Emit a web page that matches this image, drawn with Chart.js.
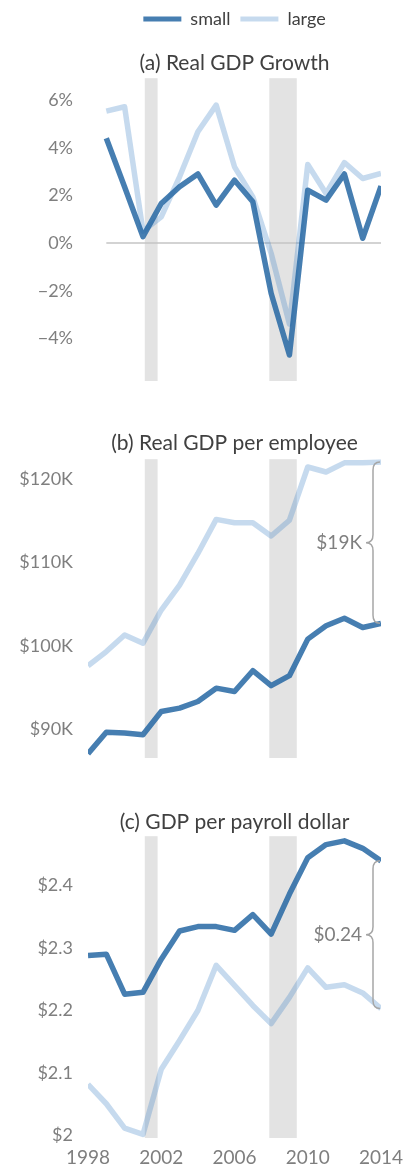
<!DOCTYPE html>
<html>
<head>
<meta charset="utf-8">
<script src="https://cdn.jsdelivr.net/npm/chart.js@4/dist/chart.umd.min.js"></script>
<style>
  body { margin: 0; background: #fff; width: 413px; height: 1169px; overflow: hidden; position: relative; }
  canvas { position: absolute; left: 0; }
</style>
</head>
<body>
<canvas id="chartA" width="413" height="395" style="top:0"></canvas>
<canvas id="chartB" width="413" height="370" style="top:400px"></canvas>
<canvas id="chartC" width="413" height="379" style="top:790px"></canvas>
<script>
const seriesNames = ["small", "large"];
const years = [1998, 1999, 2000, 2001, 2002, 2003, 2004, 2005, 2006, 2007, 2008, 2009, 2010, 2011, 2012, 2013, 2014];
const growthYears = [1999, 2000, 2001, 2002, 2003, 2004, 2005, 2006, 2007, 2008, 2009, 2010, 2011, 2012, 2013, 2014];

// (a) real GDP growth, %
const growthSmall = [4.4, 2.35, 0.27, 1.66, 2.36, 2.9, 1.59, 2.64, 1.73, -2.11, -4.7, 2.22, 1.8, 2.9, 0.2, 2.39];
const growthLarge = [5.54, 5.72, 0.5, 1.1, 2.78, 4.67, 5.79, 3.2, 1.94, -0.43, -3.4, 3.3, 2.08, 3.38, 2.71, 2.92];
// (b) real GDP per employee, $K
const perEmpSmall = [87.0, 89.6, 89.5, 89.3, 92.1, 92.5, 93.3, 94.9, 94.5, 97.0, 95.2, 96.4, 100.8, 102.4, 103.3, 102.2, 102.7];
const perEmpLarge = [97.6, 99.3, 101.3, 100.3, 104.3, 107.3, 111.1, 115.2, 114.8, 114.8, 113.2, 115.1, 121.5, 120.9, 122.0, 122.0, 122.1];
// (c) GDP per payroll dollar, $
const perDollarSmall = [2.288, 2.29, 2.226, 2.229, 2.282, 2.327, 2.334, 2.334, 2.328, 2.353, 2.322, 2.386, 2.444, 2.465, 2.471, 2.459, 2.439];
const perDollarLarge = [2.082, 2.051, 2.012, 2.002, 2.106, 2.152, 2.2, 2.272, 2.24, 2.208, 2.179, 2.221, 2.268, 2.237, 2.241, 2.228, 2.203];

const recessions = [[2001.1, 2001.8], [2007.9, 2009.4]];
const yearTicks = [1998, 2002, 2006, 2010, 2014];
const growthTicks = [-4, -2, 0, 2, 4, 6];
const perEmpTicks = [90, 100, 110, 120];
const perDollarTicks = [2, 2.1, 2.2, 2.3, 2.4];

const FONT = 'Lato, "Open Sans", sans-serif';
const smallColor = "rgba(38,103,163,0.85)";
const largeColor = "rgba(65,132,198,0.3)";

Chart.defaults.font.family = FONT;
Chart.defaults.font.size = 18;

function pts(xs, ys) {
  return xs.map((x, i) => ({ x: x, y: ys[i] }));
}

function lineSet(label, xs, ys, color) {
  return {
    label: label,
    data: pts(xs, ys),
    borderColor: color,
    backgroundColor: color,
    borderWidth: 5.5,
    borderJoinStyle: "round",
    pointRadius: 0,
    tension: 0,
    fill: false
  };
}

const shading = {
  id: "shading",
  beforeDatasetsDraw(chart) {
    const { ctx, chartArea, scales } = chart;
    ctx.save();
    ctx.fillStyle = "#e3e3e3";
    recessions.forEach(r => {
      const x0 = scales.x.getPixelForValue(r[0]);
      const x1 = scales.x.getPixelForValue(r[1]);
      ctx.fillRect(x0, chartArea.top, x1 - x0, chartArea.bottom - chartArea.top);
    });
    ctx.restore();
  }
};

const brace = {
  id: "brace",
  afterDatasetsDraw(chart, args, opts) {
    if (!opts.show) return;
    const { ctx, scales } = chart;
    const a = chart.data.datasets[0].data;
    const b = chart.data.datasets[1].data;
    const va = a[a.length - 1], vb = b[b.length - 1];
    const y1 = scales.y.getPixelForValue(Math.max(va.y, vb.y));
    const y2 = scales.y.getPixelForValue(Math.min(va.y, vb.y));
    const xe = scales.x.getPixelForValue(va.x) - 1;
    const xv = xe - 7, xt = xe - 14, r = 8;
    const mid = (y1 + y2) / 2;
    ctx.save();
    ctx.strokeStyle = "#a6a6a6";
    ctx.lineWidth = 1.5;
    ctx.beginPath();
    ctx.moveTo(xe, y1);
    ctx.quadraticCurveTo(xv, y1, xv, y1 + r);
    ctx.lineTo(xv, mid - r);
    ctx.quadraticCurveTo(xv, mid, xt, mid);
    ctx.quadraticCurveTo(xv, mid, xv, mid + r);
    ctx.lineTo(xv, y2 - r);
    ctx.quadraticCurveTo(xv, y2, xe, y2);
    ctx.stroke();
    const gap = Math.abs(va.y - vb.y);
    ctx.fillStyle = "#7f7f7f";
    ctx.font = "19px " + FONT;
    ctx.textAlign = "right";
    ctx.textBaseline = "middle";
    ctx.fillText(opts.prefix + gap.toFixed(opts.digits) + opts.suffix, xt - 4, mid);
    ctx.restore();
  }
};

function makeChart(id, cfg) {
  const yTicks = cfg.ticks;
  return new Chart(id, {
    type: "line",
    data: { datasets: cfg.datasets },
    options: {
      responsive: false,
      animation: false,
      layout: { padding: cfg.padding },
      plugins: {
        legend: cfg.legend,
        title: {
          display: true,
          text: cfg.title,
          fullSize: false,
          color: "#404040",
          font: { size: 21, weight: "normal" },
          padding: cfg.titlePad
        },
        tooltip: { enabled: false },
        brace: cfg.brace || { show: false }
      },
      scales: {
        x: {
          type: "linear",
          min: 1998,
          max: 2014,
          display: cfg.showX,
          grid: { display: false, drawTicks: false },
          border: { display: false },
          afterBuildTicks: s => { s.ticks = yearTicks.map(v => ({ value: v })); },
          afterFit: s => { s.height = cfg.showX ? 31 : 0; },
          ticks: { color: "#7f7f7f", padding: 8, maxRotation: 0, font: { size: 19 }, callback: v => String(v) }
        },
        y: {
          min: cfg.min,
          max: cfg.max,
          grid: { display: false, drawTicks: false },
          border: { display: false },
          afterBuildTicks: s => { s.ticks = yTicks.map(v => ({ value: v })); },
          afterFit: s => { s.width = 88; s.paddingTop = 0; s.paddingBottom = 0; },
          ticks: { color: "#7f7f7f", padding: 15, callback: cfg.fmt }
        }
      }
    },
    plugins: [shading, brace]
  });
}

makeChart("chartA", {
  title: "(a) Real GDP Growth",
  titlePad: { top: 13, bottom: 2 },
  padding: { left: 0, right: 32, top: 0, bottom: 14 },
  legend: {
    display: true,
    fullSize: false,
    weight: 3000,
    labels: {
      color: "#404040",
      boxWidth: 38,
      boxHeight: 5,
      padding: 10,
      font: { size: 18 },
      generateLabels: chart => Chart.defaults.plugins.legend.labels.generateLabels(chart)
        .map(l => Object.assign(l, { lineWidth: 0 })),
      filter: item => seriesNames.includes(item.text)
    }
  },
  datasets: [
    lineSet(seriesNames[0], growthYears, growthSmall, smallColor),
    lineSet(seriesNames[1], growthYears, growthLarge, largeColor),
    {
      label: "zero",
      data: pts([growthYears[0], growthYears[growthYears.length - 1]], [0, 0]),
      borderColor: "#c4c4c4",
      borderWidth: 1.5,
      pointRadius: 0
    }
  ],
  min: -5.79,
  max: 6.92,
  ticks: growthTicks,
  fmt: v => (v < 0 ? "\u2212" + Math.abs(v) : v) + "%",
  showX: false
});

makeChart("chartB", {
  title: "(b) Real GDP per employee",
  titlePad: { top: 31, bottom: 3 },
  padding: { left: 0, right: 32, top: 0, bottom: 12 },
  legend: { display: false },
  datasets: [
    lineSet(seriesNames[0], years, perEmpSmall, smallColor),
    lineSet(seriesNames[1], years, perEmpLarge, largeColor)
  ],
  min: 86.5,
  max: 122.44,
  ticks: perEmpTicks,
  fmt: v => "$" + v + "K",
  showX: false,
  brace: { show: true, prefix: "$", suffix: "K", digits: 0 }
});

makeChart("chartC", {
  title: "(c) GDP per payroll dollar",
  titlePad: { top: 20, bottom: 1 },
  padding: { left: 0, right: 32, top: 0, bottom: 0 },
  legend: { display: false },
  datasets: [
    lineSet(seriesNames[0], years, perDollarSmall, smallColor),
    lineSet(seriesNames[1], years, perDollarLarge, largeColor)
  ],
  min: 1.9963,
  max: 2.4784,
  ticks: perDollarTicks,
  fmt: v => "$" + v,
  showX: true,
  brace: { show: true, prefix: "$", suffix: "", digits: 2 }
});
</script>
</body>
</html>
